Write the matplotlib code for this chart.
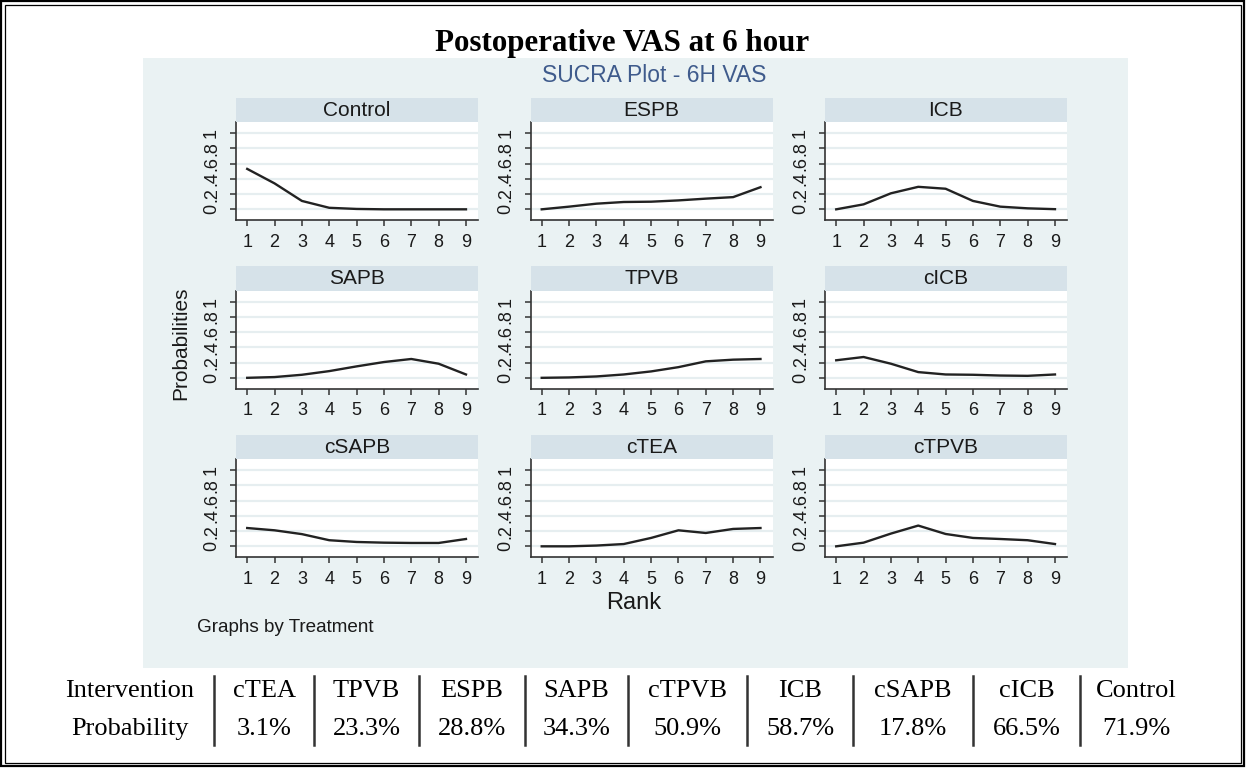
import matplotlib
matplotlib.use("Agg")
import matplotlib.pyplot as plt
from matplotlib.patches import Rectangle
from matplotlib.lines import Line2D

# ---- data -------------------------------------------------------------
ranks = [1, 2, 3, 4, 5, 6, 7, 8, 9]
treatments = ["Control", "ESPB", "ICB", "SAPB", "TPVB", "cICB", "cSAPB", "cTEA", "cTPVB"]

p_control = [0.53, 0.34, 0.11, 0.02, 0.005, 0.0, 0.0, 0.0, 0.0]
p_espb = [0.0, 0.035, 0.074, 0.096, 0.10, 0.117, 0.14, 0.16, 0.29]
p_icb = [0.0, 0.065, 0.21, 0.295, 0.27, 0.11, 0.035, 0.013, 0.002]
p_sapb = [0.0, 0.01, 0.04, 0.088, 0.15, 0.207, 0.247, 0.185, 0.044]
p_tpvb = [0.0, 0.005, 0.018, 0.044, 0.084, 0.14, 0.216, 0.238, 0.247]
p_cicb = [0.23, 0.273, 0.185, 0.075, 0.044, 0.04, 0.03, 0.026, 0.044]
p_csapb = [0.24, 0.21, 0.16, 0.08, 0.057, 0.048, 0.044, 0.044, 0.096]
p_ctea = [0.0, 0.0, 0.01, 0.03, 0.11, 0.21, 0.175, 0.228, 0.24]
p_ctpvb = [0.0, 0.048, 0.167, 0.272, 0.162, 0.11, 0.096, 0.08, 0.03]

series = [p_control, p_espb, p_icb, p_sapb, p_tpvb, p_cicb, p_csapb, p_ctea, p_ctpvb]

y_ticks = [0, 0.2, 0.4, 0.6, 0.8, 1]
y_tick_labels = ["0", ".2", ".4", ".6", ".8", "1"]

table_interventions = ["cTEA", "TPVB", "ESPB", "SAPB", "cTPVB", "ICB", "cSAPB", "cICB", "Control"]
table_probabilities = [3.1, 23.3, 28.8, 34.3, 50.9, 58.7, 17.8, 66.5, 71.9]

# ---- figure setup -----------------------------------------------------
W, H = 1246, 769
fig = plt.figure(figsize=(W / 100, H / 100), dpi=100)
fig.patch.set_facecolor("white")

SANS = ["Liberation Sans", "DejaVu Sans"]
SERIF = ["Liberation Serif", "DejaVu Serif"]

REGION = "#eaf2f3"
STRIP = "#d6e2e9"
GRID = "#e6eef0"
AXIS = "#333333"
LINE = "#222222"
TEXT = "#1a1a1a"


def fx(x):
    return x / W


def fy(y):
    return 1 - y / H


def prect(x0, y0, x1, y1, **kw):
    """Rectangle given in pixel coordinates measured from the top-left."""
    r = Rectangle((fx(x0), fy(y1)), fx(x1) - fx(x0), fy(y0) - fy(y1),
                  transform=fig.transFigure, **kw)
    fig.add_artist(r)
    return r


# outer double frame
prect(1, 1, W - 2, H - 3, fill=False, edgecolor="black", linewidth=1.6, zorder=10)
prect(4.5, 4.5, W - 5, H - 6, fill=False, edgecolor="black", linewidth=0.9, zorder=10)

# light graph region
prect(143, 58, 1128, 668, facecolor=REGION, edgecolor="none", zorder=0)

fig.text(fx(622), fy(43), "Postoperative VAS at 6 hour", family=SERIF,
         fontweight="bold", fontsize=22.3, ha="center", va="center")
fig.text(fx(654), fy(75), "SUCRA Plot - 6H VAS", family=SANS, fontsize=16.5,
         color="#3f5b8c", ha="center", va="center")

# ---- panels ------------------------------------------------------------
col_left = [236, 530.5, 825]
panel_w = 242
row_top = [98, 266.5, 435]
strip_h = 24
plot_h = 98

for i, (name, vals) in enumerate(zip(treatments, series)):
    r, c = divmod(i, 3)
    x0 = col_left[c]
    x1 = x0 + panel_w
    st = row_top[r]
    pt = st + strip_h
    pb = pt + plot_h

    prect(x0, st, x1, pt, facecolor=STRIP, edgecolor="none", zorder=1)
    fig.text(fx((x0 + x1) / 2), fy(st + strip_h / 2 + 0.5), name, family=SANS,
             fontsize=15, ha="center", va="center", color=TEXT)

    ax = fig.add_axes([fx(x0), fy(pb), fx(x1) - fx(x0), fy(pt) - fy(pb)])
    ax.set_facecolor("white")
    ax.plot(ranks, vals, color=LINE, linewidth=1.7, solid_joinstyle="round", zorder=3)
    ax.set_xlim(0.59, 9.44)
    ax.set_ylim(-0.14, 1.145)
    ax.set_xticks(ranks)
    ax.set_yticks(y_ticks)
    ax.set_yticklabels(y_tick_labels)
    ax.grid(axis="y", color=GRID, linewidth=1.6, zorder=1)
    ax.set_axisbelow(True)
    for side in ("top", "right"):
        ax.spines[side].set_visible(False)
    for side in ("left", "bottom"):
        ax.spines[side].set_color(AXIS)
        ax.spines[side].set_linewidth(1.2)
    ax.tick_params(axis="both", direction="out", length=4.5, width=1.1,
                   color=AXIS, labelsize=13, labelcolor=TEXT)
    ax.tick_params(axis="x", pad=5.5)
    ax.tick_params(axis="y", pad=7, labelrotation=90)
    for lab in ax.get_xticklabels() + ax.get_yticklabels():
        lab.set_family(SANS)
    for lab in ax.get_yticklabels():
        lab.set_verticalalignment("center")

fig.text(fx(181), fy(343), "Probabilities", family=SANS, fontsize=15,
         rotation=90, ha="center", va="center", color=TEXT)
fig.text(fx(634), fy(603), "Rank", family=SANS, fontsize=17,
         ha="center", va="center", color=TEXT)
fig.text(fx(197), fy(627), "Graphs by Treatment", family=SANS, fontsize=13.6,
         ha="left", va="center", color=TEXT)

# ---- summary table -----------------------------------------------------
separators = [214, 314, 419, 525, 628, 747, 853, 973, 1080]
cell_right = 1192
row_y = [691, 729]

fig.text(fx(130), fy(row_y[0]), "Intervention", family=SERIF, fontsize=19,
         ha="center", va="center")
fig.text(fx(130), fy(row_y[1]), "Probability", family=SERIF, fontsize=19,
         ha="center", va="center")

for x in separators:
    fig.add_artist(Line2D([fx(x), fx(x)], [fy(676), fy(745)], transform=fig.transFigure,
                          color="#333333", linewidth=1.8))

edges = separators + [cell_right]
for k, (name, prob) in enumerate(zip(table_interventions, table_probabilities)):
    cx = (edges[k] + edges[k + 1]) / 2
    fig.text(fx(cx), fy(row_y[0]), name, family=SERIF, fontsize=19,
             ha="center", va="center")
    fig.text(fx(cx), fy(row_y[1]), f"{prob:.1f}%", family=SERIF, fontsize=19,
             ha="center", va="center")

fig.savefig("out.png", dpi=100)
